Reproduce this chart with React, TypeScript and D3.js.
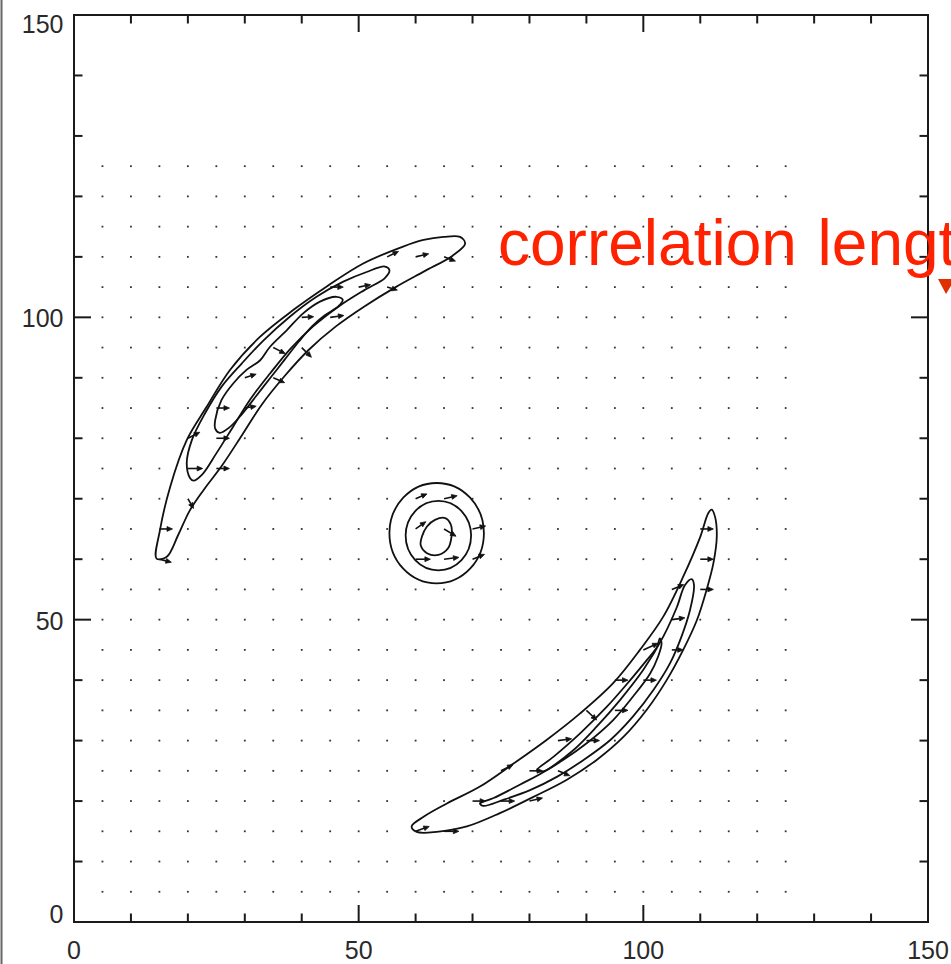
import React from "react";
import * as d3 from "d3";

// ---------- data (data units) ----------
const xTicksMajor = [0, 50, 100, 150];
const yTicksMajor = [0, 50, 100, 150];
const minorStep = 10;
const gridStep = 5;
const gridMax = 125;

// contour lines: [x, y]
const ulOuter: [number, number][] = [
  [14.5, 60.1], [15.1, 64.8], [16.9, 72.0], [19.8, 79.7], [23.3, 85.2], [27.4, 91.3], [32.7, 96.8],
  [38.5, 101.2], [44.4, 105.1], [50.8, 108.9], [57.8, 111.7], [61.4, 112.8], [64.9, 113.3], [67.8, 113.3],
  [68.7, 112.2], [66.5, 110.2], [61.5, 107.6], [56.5, 105.0], [51.0, 101.8], [46.0, 98.5], [41.2, 94.6],
  [37.0, 90.3], [33.0, 85.6], [29.5, 80.5], [26.0, 75.5], [22.8, 71.5], [20.3, 68.0], [18.3, 64.0], [16.3, 60.4],
];
const ulMiddle: [number, number][] = [
  [20.4, 73.4], [19.8, 75.9], [20.7, 79.7], [23.0, 84.1], [25.9, 88.5], [29.5, 92.4], [33.3, 96.2],
  [37.9, 100.1], [42.6, 103.4], [47.3, 105.9], [51.4, 107.5], [54.6, 108.4], [55.4, 107.8], [54.6, 106.5],
  [51.0, 104.5], [46.5, 101.8], [42.0, 98.5], [38.0, 94.8], [34.5, 90.8], [31.0, 86.5], [28.0, 82.0],
  [25.0, 77.5], [22.5, 74.0], [21.0, 73.0],
];
const ulInner: [number, number][] = [
  [24.8, 81.6], [24.8, 83.0], [25.9, 86.3], [28.0, 89.1], [30.3, 91.3], [32.7, 92.9], [34.4, 95.1],
  [37.4, 97.9], [40.3, 100.7], [43.2, 102.6], [46.1, 103.4], [47.2, 102.9], [46.4, 101.8], [44.0, 100.3],
  [41.8, 98.5], [39.5, 96.0], [37.0, 93.0], [34.5, 90.0], [32.0, 87.0], [29.5, 84.0], [27.3, 81.8],
  [25.6, 80.9],
];
const cInner: [number, number][] = [
  [61.1, 63.7], [62.0, 65.4], [63.4, 66.5], [65.2, 66.8], [66.2, 65.7], [66.3, 63.7], [65.7, 61.8],
  [64.0, 60.7], [62.0, 61.0], [60.9, 62.3],
];
const circles: { cx: number; cy: number; r: number }[] = [
  { cx: 63.7, cy: 64.3, r: 8.3 },
  { cx: 64.0, cy: 63.9, r: 5.75 },
];
const lrOuter: [number, number][] = [
  [59.3, 15.8], [61.4, 17.4], [65.5, 19.6], [71.3, 22.4], [77.2, 26.2], [83.0, 30.1], [88.9, 34.5],
  [94.7, 39.5], [99.4, 45.0], [103.5, 50.5], [107.0, 57.1], [110.0, 63.7], [111.4, 67.6], [112.0, 68.2],
  [112.6, 67.0], [112.9, 63.7], [112.3, 59.3], [111.1, 54.9], [109.4, 49.9], [107.0, 45.0], [104.1, 40.0],
  [100.6, 35.1], [96.5, 30.6], [91.8, 26.8], [86.5, 23.5], [80.7, 20.7], [74.8, 18.0], [69.0, 15.8],
  [63.7, 14.9], [60.2, 14.9],
];
const lrMiddle: [number, number][] = [
  [71.3, 19.6], [73.7, 20.5], [78.3, 22.7], [83.0, 25.1], [87.7, 28.4], [91.8, 32.3], [95.9, 36.7],
  [100.0, 41.7], [103.5, 47.2], [105.9, 52.1], [107.3, 55.7], [108.5, 56.7], [108.9, 55.7], [108.2, 51.6],
  [106.7, 47.2], [104.7, 42.8], [101.8, 38.4], [98.2, 34.0], [94.2, 30.1], [89.5, 26.8], [84.8, 24.0],
  [80.1, 21.8], [75.4, 20.2], [71.9, 19.2],
];
const lrInner: [number, number][] = [
  [81.3, 25.1], [84.2, 27.3], [88.9, 31.2], [93.6, 35.6], [97.7, 40.0], [100.6, 43.3], [102.4, 45.5],
  [102.9, 46.9], [103.2, 46.1], [102.6, 43.9], [101.2, 41.1], [98.2, 37.3], [94.7, 33.4], [90.1, 29.6],
  [85.9, 26.8], [82.4, 24.9],
];
const contours = [ulOuter, ulMiddle, ulInner, cInner, lrOuter, lrMiddle, lrInner];

// arrows: grid point (x, y) and vector (u, v) in data units
const arrowX = [15, 15, 20, 20, 25, 20, 25, 25, 30, 30, 35, 35, 40, 40, 45, 45, 50, 55, 55, 60, 65,
  60, 65, 60, 65, 70, 60, 65, 70,
  110, 110, 110, 105, 105, 105, 100, 100, 95, 95, 90, 90, 85, 85, 80, 75, 75, 70, 80, 60, 65];
const arrowY = [60, 65, 70, 75, 75, 80, 80, 85, 85, 90, 90, 95, 95, 100, 100, 105, 105, 105, 110, 110, 110,
  70, 70, 65, 65, 65, 60, 60, 60,
  65, 60, 55, 55, 50, 45, 45, 40, 40, 35, 35, 30, 30, 25, 25, 25, 20, 20, 20, 15, 15];
const arrowU = [2.1, 2.3, 1.0, 2.6, 2.3, 2.1, 2.3, 2.3, 2.0, 2.0, 2.0, 2.1, 1.7, 2.1, 2.4, 2.3, 2.1, 1.8, 2.0, 2.3, 2.0,
  2.0, 2.3, 1.8, 2.1, 2.3, 2.6, 2.6, 2.1,
  2.3, 2.3, 2.3, 2.1, 2.3, 2.0, 2.6, 2.3, 2.3, 2.3, 1.8, 2.3, 2.4, 2.1, 2.3, 2.1, 2.4, 2.3, 2.3, 2.4, 2.6];
const arrowV = [-0.5, 0, -1.6, 0, 0, 1.0, 0, 0, 0.3, 0.6, -0.8, -1.0, -1.6, 0.1, 0.3, 0, 0.4, -0.5, 0.9, 0.5, -0.7,
  0.8, 0.5, 1.2, -1.2, 0.5, 0, 0.3, 0.8,
  0, 0, 0, 0.8, 0.3, 0, 1.1, 0, 0, 0, -1.6, 0, 0.3, -0.8, 0, 1.0, 0, 0, 0.5, 0.8, 0];

const annotationText = "correlation length";

// ---------- layout ----------
const W = 951;
const H = 964;
const left = 74;
const right = 928;
const top = 15;
const bottom = 922;

export default function App() {
  const x = d3.scaleLinear().domain([0, 150]).range([left, right]);
  const y = d3.scaleLinear().domain([0, 150]).range([bottom, top]);

  const line = d3
    .line<[number, number]>()
    .x((d) => x(d[0]))
    .y((d) => y(d[1]))
    .curve(d3.curveCatmullRomClosed.alpha(0.5));

  const minorTicks = d3.range(0, 151, minorStep).filter((v) => !xTicksMajor.includes(v));
  const grid: [number, number][] = [];
  const arrowKeys = new Set(arrowX.map((ax, i) => `${ax},${arrowY[i]}`));
  for (let gx = 0; gx <= gridMax; gx += gridStep) {
    for (let gy = 0; gy <= gridMax; gy += gridStep) {
      if (!arrowKeys.has(`${gx},${gy}`)) grid.push([gx, gy]);
    }
  }

  const arrows = arrowX.map((ax, i) => {
    const x0 = x(ax);
    const y0 = y(arrowY[i]);
    const x1 = x(ax + arrowU[i]);
    const y1 = y(arrowY[i] + arrowV[i]);
    const ang = Math.atan2(y1 - y0, x1 - x0);
    const hl = 5.5;
    const hw = 2.4;
    const bx = x1 - hl * Math.cos(ang);
    const by = y1 - hl * Math.sin(ang);
    const px = -Math.sin(ang) * hw;
    const py = Math.cos(ang) * hw;
    return { x0, y0, x1, y1, bx, by, head: `M${x1},${y1}L${bx + px},${by + py}L${bx - px},${by - py}Z` };
  });

  const yLabelBaseline = (v: number) => {
    const p = y(v);
    if (v === 0) return p + 1;
    if (v === 150) return p + 18;
    return p + 10;
  };

  const font = "'Liberation Sans', Arial, Helvetica, sans-serif";
  const axisColor = "#1a1a1a";

  return (
    <svg width={W} height={H} style={{ position: "absolute", left: 0, top: 0, background: "#fff" }}>
      <rect x={0} y={0} width={W} height={H} fill="#fff" />
      {/* page edge line */}
      <line x1={1.5} y1={0} x2={1.5} y2={H} stroke="#666" strokeWidth={2} />

      {/* grid dots */}
      <g fill="#333">
        {grid.map(([gx, gy]) => (
          <rect key={`${gx}-${gy}`} x={x(gx) - 0.9} y={y(gy) - 0.9} width={1.8} height={1.8} />
        ))}
      </g>

      {/* contours */}
      <g fill="none" stroke="#111" strokeWidth={1.8} strokeLinejoin="round">
        {contours.map((c, i) => (
          <path key={i} d={line(c) ?? ""} />
        ))}
        {circles.map((c, i) => (
          <ellipse key={`c${i}`} cx={x(c.cx)} cy={y(c.cy)} rx={x(c.cx + c.r) - x(c.cx)} ry={y(c.cy) - y(c.cy + c.r)} />
        ))}
      </g>

      {/* arrows */}
      <g stroke="#111" fill="#111">
        {arrows.map((a, i) => (
          <g key={i}>
            <line x1={a.x0} y1={a.y0} x2={a.bx} y2={a.by} strokeWidth={1.6} />
            <path d={a.head} strokeWidth={0.8} />
          </g>
        ))}
      </g>

      {/* axes box */}
      <rect x={left} y={top} width={right - left} height={bottom - top} fill="none" stroke={axisColor} strokeWidth={2} />

      {/* ticks */}
      <g stroke={axisColor} strokeWidth={2}>
        {xTicksMajor.map((v) => (
          <g key={`xm${v}`}>
            <line x1={x(v)} x2={x(v)} y1={bottom} y2={bottom - 17} />
            <line x1={x(v)} x2={x(v)} y1={top} y2={top + 17} />
          </g>
        ))}
        {minorTicks.map((v) => (
          <g key={`xn${v}`}>
            <line x1={x(v)} x2={x(v)} y1={bottom} y2={bottom - 8.5} />
            <line x1={x(v)} x2={x(v)} y1={top} y2={top + 8.5} />
          </g>
        ))}
        {yTicksMajor.map((v) => (
          <g key={`ym${v}`}>
            <line x1={left} x2={left + 17} y1={y(v)} y2={y(v)} />
            <line x1={right} x2={right - 17} y1={y(v)} y2={y(v)} />
          </g>
        ))}
        {minorTicks.map((v) => (
          <g key={`yn${v}`}>
            <line x1={left} x2={left + 8.5} y1={y(v)} y2={y(v)} />
            <line x1={right} x2={right - 8.5} y1={y(v)} y2={y(v)} />
          </g>
        ))}
      </g>

      {/* tick labels */}
      <g fill="#2a2a2a" fontFamily={font} fontSize={25}>
        {yTicksMajor.map((v) => (
          <text key={`yl${v}`} x={left - 10.5} y={yLabelBaseline(v)} textAnchor="end">
            {v}
          </text>
        ))}
        {xTicksMajor.map((v) => (
          <text key={`xl${v}`} x={x(v)} y={959} textAnchor="middle">
            {v}
          </text>
        ))}
      </g>

      {/* annotation (clipped by the right edge, as in the source) */}
      <text x={498} y={265} fill="#ff2200" fontFamily={font} fontSize={64} wordSpacing={3}>
        {annotationText}
      </text>
      <path d="M938,279L955,279L946,294Z" fill="#e03000" />
    </svg>
  );
}
